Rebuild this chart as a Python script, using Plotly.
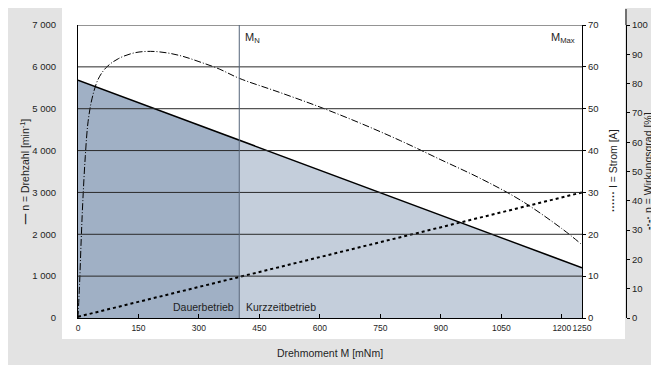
import plotly.graph_objects as go

# ---------------- data ----------------
M_speed = [0, 400, 1250]            # Drehmoment [mNm]
n_speed = [5680, 4250, 1200]        # Drehzahl [min^-1]

M_current = [0, 1250]
I_current = [0.3, 30]               # Strom [A]

M_eta = [0, 4, 8, 12, 18, 25, 35, 50, 70, 100, 140, 180, 220, 260, 300, 350,
         400, 500, 600, 700, 800, 900, 1000, 1100, 1200, 1250]
eta = [0, 12, 27, 40, 55, 67, 75, 81.5, 85.5, 88.5, 90.5, 91, 90.5, 89.3, 87.5, 85,
       81.8, 77, 72, 66.5, 60.5, 54, 47.5, 40, 30.5, 25]   # Wirkungsgrad [%]

M_N = 400
M_MAX = 1250

x_ticks = [0, 150, 300, 450, 600, 750, 900, 1050, 1200, 1250]
n_ticks = [0, 1000, 2000, 3000, 4000, 5000, 6000, 7000]
I_ticks = [0, 10, 20, 30, 40, 50, 60, 70]
eta_ticks = [0, 10, 20, 30, 40, 50, 60, 70, 80, 90, 100]

# ---------------- style ----------------
FONT = "Liberation Sans Narrow, Liberation Sans, Arial, sans-serif"
TXT = "#1e1e1e"
DARK_FILL = "#a0b0c5"
LIGHT_FILL = "#c4cedb"
GRAY = "#e3e3e3"

W, H = 659, 365
OFF = 8                      # page margin of the browser body
L, R, T, B = 70, 41, 17, 55
pw = W - L - R               # paper width (up to efficiency axis)
ph = H - T - B
x_dom_end = (574 - L) / pw   # plot right edge (Strom axis)

def px_x(p):                 # screen pixel -> paper x
    return (p - OFF - L) / pw

def px_y(p):                 # screen pixel -> paper y
    return (H - B - (p - OFF)) / ph

i_split = M_speed.index(M_N)

fig = go.Figure()

fig.add_trace(go.Scatter(
    x=M_speed[:i_split + 1], y=n_speed[:i_split + 1], mode="lines",
    line=dict(width=0), fill="tozeroy", fillcolor=DARK_FILL,
    hoverinfo="skip", showlegend=False))
fig.add_trace(go.Scatter(
    x=M_speed[i_split:], y=n_speed[i_split:], mode="lines",
    line=dict(width=0), fill="tozeroy", fillcolor=LIGHT_FILL,
    hoverinfo="skip", showlegend=False))

fig.add_trace(go.Scatter(
    x=M_speed, y=n_speed, mode="lines", name="n = Drehzahl",
    line=dict(color="#000000", width=1.6), showlegend=False))
fig.add_trace(go.Scatter(
    x=M_current, y=I_current, mode="lines", name="I = Strom", yaxis="y2",
    line=dict(color="#000000", width=2, dash="dot"), showlegend=False))
fig.add_trace(go.Scatter(
    x=M_eta, y=eta, mode="lines", name="η = Wirkungsgrad", yaxis="y3",
    line=dict(color="#000000", width=1, dash="7px,2px,1px,2px"),
    line_shape="spline", showlegend=False))

shapes = []
# white panel behind plot and x tick labels
shapes.append(dict(type="rect", xref="paper", yref="paper", layer="below",
                   x0=px_x(62), x1=px_x(625), y0=px_y(339), y1=px_y(8),
                   fillcolor="#ffffff", line=dict(width=0)))
# grid lines on top of the fills
for v in n_ticks[1:]:
    shapes.append(dict(type="line", xref="x domain", yref="y", layer="above",
                       x0=0, x1=1, y0=v, y1=v,
                       line=dict(color="#2a2a2a", width=1)))
# M_N line
shapes.append(dict(type="line", xref="x", yref="y domain", layer="above",
                   x0=M_N, x1=M_N, y0=0, y1=1,
                   line=dict(color="#55657a", width=1)))
# efficiency axis extension above 100
shapes.append(dict(type="line", xref="paper", yref="paper", layer="above",
                   x0=1, x1=1, y0=1, y1=px_y(9),
                   line=dict(color="#000000", width=1)))

titlefont = dict(family=FONT, size=10.5, color=TXT)
annfont = dict(family=FONT, size=11, color=TXT)
y_mid = px_y(171)

annotations = [
    dict(x=M_N, y=px_y(38), xref="x", yref="paper", text="M<sub>N</sub>",
         showarrow=False, xanchor="left", yanchor="middle", xshift=4,
         font=annfont),
    dict(x=M_MAX, y=px_y(38), xref="x", yref="paper", text="M<sub>Max</sub>",
         showarrow=False, xanchor="right", yanchor="middle", xshift=-5,
         font=annfont),
    dict(x=M_N, y=px_y(307), xref="x", yref="paper", text="Dauerbetrieb",
         showarrow=False, xanchor="right", yanchor="middle", xshift=-3,
         font=dict(family=FONT, size=10.5, color=TXT)),
    dict(x=M_N, y=px_y(307), xref="x", yref="paper", text="Kurzzeitbetrieb",
         showarrow=False, xanchor="left", yanchor="middle", xshift=5,
         font=dict(family=FONT, size=10.5, color=TXT)),
    # right axis titles
    dict(x=px_x(613), y=y_mid, xref="paper", yref="paper", textangle=-90,
         text="<b>······</b> I = Strom [A]", showarrow=False,
         xanchor="center", yanchor="middle", font=titlefont),
    dict(x=px_x(648), y=y_mid, xref="paper", yref="paper", textangle=-90,
         text="<b>-·-·</b> η = Wirkungsgrad [%]", showarrow=False,
         xanchor="center", yanchor="middle", font=titlefont),
]

tickfont = dict(family=FONT, size=9.5, color=TXT)

fig.update_layout(
    width=W, height=H,
    margin=dict(l=L, r=R, t=T, b=B, pad=0),
    paper_bgcolor=GRAY, plot_bgcolor="#ffffff",
    separators=", ",
    showlegend=False,
    shapes=shapes, annotations=annotations,
    xaxis=dict(
        domain=[0, x_dom_end], range=[0, 1250], tickvals=x_ticks,
        automargin=False, tickangle=0,
        showgrid=False, zeroline=False, showline=True, linecolor="#000000",
        linewidth=1, ticks="inside", ticklen=4, tickcolor="#000000",
        tickfont=dict(family=FONT, size=8.5, color=TXT), ticklabelstandoff=2,
        title=dict(text="Drehmoment M [mNm]", font=titlefont, standoff=17),
    ),
    yaxis=dict(
        range=[0, 7000], tickvals=n_ticks, separatethousands=True,
        automargin=False,
        tickformat=",d", showgrid=False, zeroline=False, showline=True,
        linecolor="#000000", linewidth=1, ticks="", tickfont=tickfont,
        ticklabelstandoff=19,
        title=dict(text="<b>—</b> n = Drehzahl [min<sup>-1</sup>]",
                   font=titlefont, standoff=0),
    ),
    yaxis2=dict(
        overlaying="y", side="right", anchor="x", range=[0, 70],
        automargin=False,
        tickvals=I_ticks, showgrid=False, zeroline=False, showline=True,
        linecolor="#000000", linewidth=1, ticks="outside", ticklen=3,
        tickcolor="#000000", tickfont=tickfont,
    ),
    yaxis3=dict(
        overlaying="y", side="right", anchor="free", position=1.0,
        automargin=False,
        range=[0, 100], tickvals=eta_ticks, showgrid=False, zeroline=False,
        showline=True, linecolor="#000000", linewidth=1, ticks="outside",
        ticklen=3, tickcolor="#000000", tickfont=tickfont,
        ticklabelstandoff=0,
    ),
)

fig.write_html("out.html")
